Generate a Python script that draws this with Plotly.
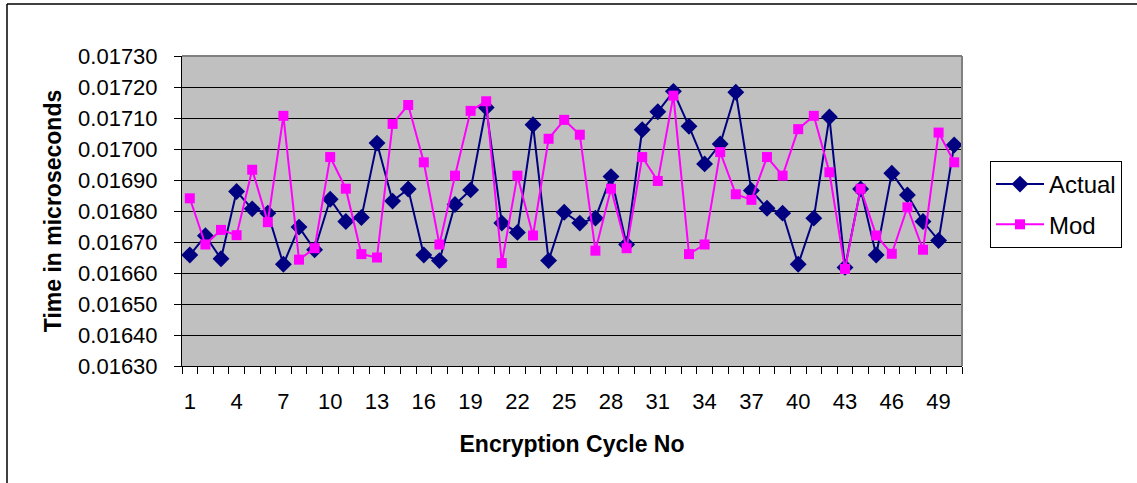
import plotly.graph_objects as go

# Encryption cycle numbers and measured times (microseconds)
cycles = list(range(1, 51))

actual = [
    0.016658, 0.016720, 0.016646, 0.016863, 0.016807, 0.016793, 0.016628, 0.016748, 0.016675, 0.016838,
    0.016766, 0.016779, 0.017019, 0.016832, 0.016871, 0.016658, 0.016640, 0.016821, 0.016868, 0.017134,
    0.016761, 0.016731, 0.017078, 0.016640, 0.016796, 0.016761, 0.016777, 0.016911, 0.016692, 0.017062,
    0.017120, 0.017186, 0.017073, 0.016952, 0.017016, 0.017183, 0.016866, 0.016809, 0.016793, 0.016628,
    0.016777, 0.017103, 0.016618, 0.016871, 0.016658, 0.016922, 0.016852, 0.016766, 0.016705, 0.017013,
]

mod = [
    0.016841, 0.016692, 0.016739, 0.016722, 0.016933, 0.016764, 0.017107, 0.016643, 0.016680, 0.016974,
    0.016872, 0.016661, 0.016650, 0.017081, 0.017142, 0.016957, 0.016692, 0.016914, 0.017123, 0.017154,
    0.016632, 0.016914, 0.016721, 0.017033, 0.017094, 0.017046, 0.016672, 0.016872, 0.016680, 0.016974,
    0.016897, 0.017172, 0.016661, 0.016692, 0.016990, 0.016854, 0.016836, 0.016974, 0.016914, 0.017064,
    0.017107, 0.016925, 0.016613, 0.016872, 0.016721, 0.016662, 0.016812, 0.016675, 0.017053, 0.016957,
]

x_tick_vals = [1, 4, 7, 10, 13, 16, 19, 22, 25, 28, 31, 34, 37, 40, 43, 46, 49]
x_tick_text = [str(v) for v in x_tick_vals]

FONT = "Arial, Liberation Sans, sans-serif"

W, H = 1137, 483
ML, MR, MT, MB = 182, 175, 56, 117
PW, PH = W - ML - MR, H - MT - MB


def px_x(p):
    return (p - ML) / PW


def px_y(p):
    return 1 - (p - MT) / PH


fig = go.Figure()
fig.add_trace(go.Scatter(
    x=cycles, y=actual, name="Actual", mode="lines+markers", legendgroup="a",
    line=dict(color="#000080", width=2),
    marker=dict(symbol="diamond", size=13, color="#000080"),
))
fig.add_trace(go.Scatter(
    x=cycles, y=mod, name="Mod", mode="lines+markers", legendgroup="m",
    line=dict(color="#FF00FF", width=2),
    marker=dict(symbol="square", size=10, color="#FF00FF"),
))

fig.update_layout(
    width=W, height=H,
    margin=dict(l=ML, r=MR, t=MT, b=MB, autoexpand=False),
    paper_bgcolor="white",
    plot_bgcolor="#C0C0C0",
    font=dict(family=FONT, size=22, color="black"),
    showlegend=True,
    legend=dict(
        x=px_x(990), y=px_y(161), xanchor="left", yanchor="top",
        bgcolor="white", bordercolor="black", borderwidth=1,
        font=dict(size=24), itemwidth=48,
        traceorder="grouped", tracegroupgap=6,
    ),
    xaxis=dict(
        range=[0.5, 50.5],
        tickmode="array", tickvals=x_tick_vals, ticktext=x_tick_text,
        ticks="", showgrid=False, zeroline=False,
        showline=True, linecolor="black", linewidth=1,
        minor=dict(tickmode="linear", tick0=0.5, dtick=1, ticks="outside",
                   ticklen=7, tickcolor="black", tickwidth=1, showgrid=False),
        ticklabelstandoff=16,
        title=dict(text="<b>Encryption Cycle No</b>", font=dict(size=23), standoff=22),
    ),
    yaxis=dict(
        range=[0.0163, 0.0173],
        tickmode="linear", tick0=0.0163, dtick=0.0001, tickformat=".5f",
        ticks="outside", ticklen=7, tickcolor="black", tickwidth=1,
        showgrid=True, gridcolor="black", gridwidth=1, zeroline=False,
        showline=True, linecolor="black", linewidth=1,
        ticklabelstandoff=12,
        title=dict(text="<b>Time in microseconds</b>", font=dict(size=23), standoff=10),
    ),
    shapes=[
        # plot area outline on the top and right sides
        dict(type="line", xref="paper", yref="paper", x0=0, x1=1, y0=1, y1=1,
             line=dict(color="#808080", width=2)),
        dict(type="line", xref="paper", yref="paper", x0=1, x1=1, y0=0, y1=1,
             line=dict(color="#808080", width=2)),
        # outer chart frame
        dict(type="line", xref="paper", yref="paper",
             x0=px_x(7), x1=px_x(7), y0=px_y(500), y1=px_y(4),
             line=dict(color="black", width=1.5)),
        dict(type="line", xref="paper", yref="paper",
             x0=px_x(7), x1=px_x(1150), y0=px_y(4), y1=px_y(4),
             line=dict(color="black", width=1.5)),
    ],
)

fig.write_html("out.html")
